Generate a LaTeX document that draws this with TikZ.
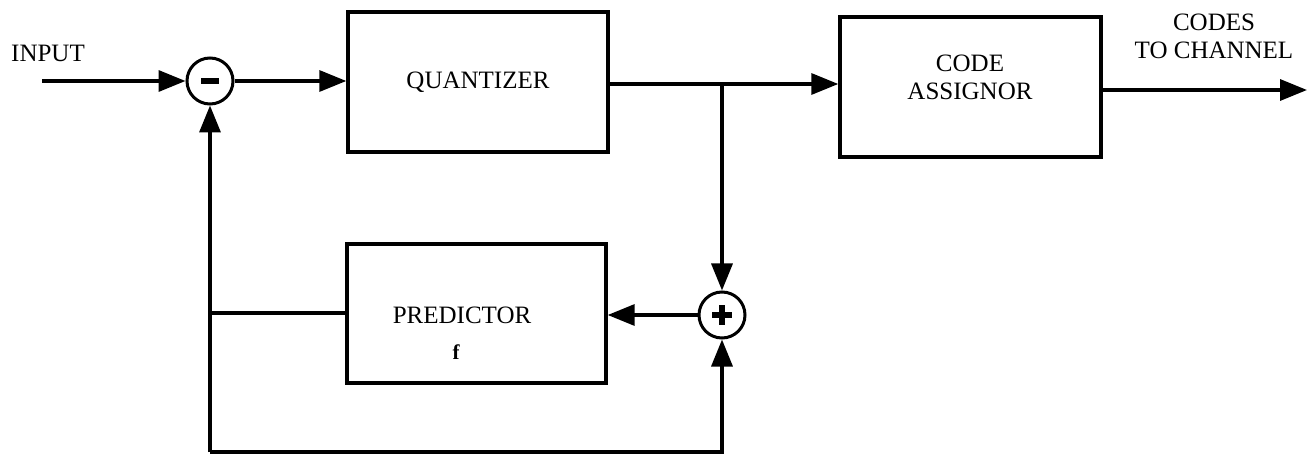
\documentclass[tikz,border=0pt]{standalone}
\usepackage{fontspec}
\setmainfont{Liberation Serif}
\usetikzlibrary{arrows.meta}
\begin{document}
\begin{tikzpicture}[x=1pt,y=-1pt,
  box/.style={draw,line width=3.4pt,minimum width=260pt,minimum height=140pt,inner sep=0pt},
  sumnode/.style={draw,circle,line width=3pt,minimum size=46pt,inner sep=0pt},
  txt/.style={inner sep=0pt,font=\fontsize{25}{28}\selectfont,align=center},
  wire/.style={line width=3.4pt},
  arr/.style={wire,-{Triangle[length=27pt,width=21pt]}},
  sign/.style={line width=5.5pt}]
\useasboundingbox (0,0) rectangle (1312,462);
% blocks
\node[box] (quant) at (478,82) {};
\node[txt] (quanttxt) at (478,82) {QUANTIZER};
\node[box,minimum width=261pt] (code) at (970.5,87) {};
\node[txt] (codetxt) at (970,77) {CODE\\ASSIGNOR};
\node[box,minimum width=259pt,minimum height=139pt] (pred) at (476.5,313.5) {};
\node[txt] (predtxt) at (462,315) {PREDICTOR};
\node[txt,font=\fontsize{21}{22}\selectfont\bfseries] (ftxt) at (456,352) {f};
% summing junctions
\node[sumnode] (minus) at (210,81) {};
\draw[sign] ([xshift=-9pt]minus.center) -- ([xshift=9pt]minus.center);
\node[sumnode] (plus) at (722,315) {};
\draw[sign] ([xshift=-10pt]plus.center) -- ([xshift=10pt]plus.center);
\draw[sign] ([yshift=-10pt]plus.center) -- ([yshift=10pt]plus.center);
% labels
\node[txt,anchor=west] (inputtxt) at (11,53) {INPUT};
\node[txt] (outtxt) at (1214,36) {CODES\\TO CHANNEL};
% coordinates
\coordinate (in) at (42,81);
\coordinate (branch) at (722,84);
\coordinate (out) at (1307,90);
\coordinate (junc) at (210,313);
\coordinate (bl) at (210,452);
\coordinate (br) at (722,452);
% connectors
\draw[arr] (in) -- (minus.west);
\draw[arr] (minus.east) -- (quant.west |- minus.east);
\draw[wire] (quant.east |- branch) -- (branch);
\draw[arr] (branch) -- (code.west |- branch);
\draw[arr] (branch) -- (plus.north);
\draw[arr] (plus.west) -- (pred.east |- plus.west);
\draw[wire] (pred.west |- junc) -- (junc);
\draw[arr] (bl) -- (minus.south);
\draw[arr,line join=miter] (bl) -- (br) -- (plus.south);
\draw[arr] (code.east |- out) -- (out);
\end{tikzpicture}
\end{document}
